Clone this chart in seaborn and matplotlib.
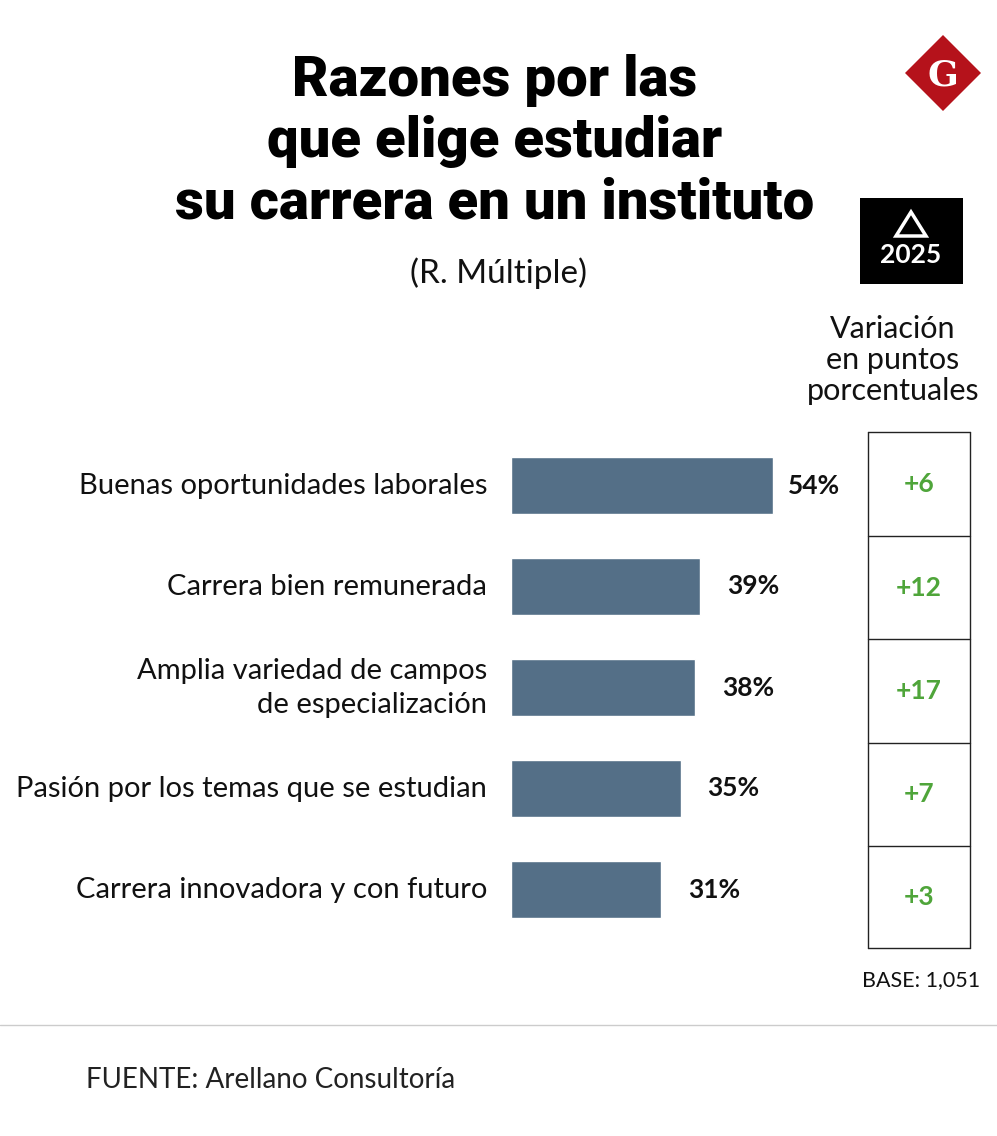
import matplotlib
matplotlib.use("Agg")
import matplotlib.pyplot as plt
import seaborn as sns
import pandas as pd
from matplotlib.patches import Polygon, Rectangle

sns.set_theme(style="white")
plt.rcParams['font.family'] = ['Lato', 'DejaVu Sans']

df = pd.DataFrame({
    "razon": ["Buenas oportunidades laborales", "Carrera bien remunerada",
              "Amplia variedad de campos\nde especialización",
              "Pasión por los temas que se estudian", "Carrera innovadora y con futuro"],
    "pct": [54, 39, 38, 35, 31],
    "var": ["+6", "+12", "+17", "+7", "+3"],
})

W, H = 997, 1136
fig = plt.figure(figsize=(W / 100, H / 100), dpi=100)

def fx(x): return x / W
def fy(y): return 1 - y / H

# bar axes: x pixel 511 -> 0%, 4.85 px per %
ax = fig.add_axes([fx(511), fy(940), 485 / W, 505 / H])
sns.barplot(data=df, x="pct", y="razon", color="#546f87", width=0.57, ax=ax, saturation=1)
ax.set_xlim(0, 100)
ax.set_xlabel("")
ax.set_ylabel("")
ax.set_xticks([])
ax.set_yticklabels([])
ax.tick_params(left=False)
sns.despine(ax=ax, left=True, bottom=True)
ax.patch.set_alpha(0)
for i, row in df.iterrows():
    off = 3.0 if i == 0 else 5.5
    ax.text(row.pct + off, i, f"{row.pct}%", va="center", ha="left",
            fontsize=19, fontweight="bold", color="#111111")
    fig.text(fx(487), fy(486 + 101 * i), row.razon, ha="right", va="center",
             fontsize=21, color="#111111", linespacing=1.35)

# variation table
rows = [432, 536, 639, 743, 846, 948]
for y in rows:
    fig.add_artist(plt.Line2D([fx(868), fx(970)], [fy(y), fy(y)], color="#222222", lw=1))
for x in [868, 970]:
    fig.add_artist(plt.Line2D([fx(x), fx(x)], [fy(432), fy(948)], color="#222222", lw=1))
for i, v in enumerate(df["var"]):
    fig.text(fx(919), fy((rows[i] + rows[i + 1]) / 2), v, ha="center", va="center",
             fontsize=19, fontweight="bold", color="#4fa53a")

fig.text(fx(893), fy(360), "Variación\nen puntos\nporcentuales", ha="center", va="center",
         fontsize=22, color="#111111", linespacing=1.15)
fig.text(fx(980), fy(980), "BASE: 1,051", ha="right", va="center", fontsize=15.5, color="#111111")

# title
fig.text(fx(495), fy(142), "Razones por las\nque elige estudiar\nsu carrera en un instituto",
         ha="center", va="center", fontsize=40.5, fontweight="black", color="black",
         linespacing=1.2, family=["Roboto", "Lato"])
fig.text(fx(498), fy(273), "(R. Múltiple)", ha="center", va="center", fontsize=24, color="#111111")

# 2025 badge
fig.add_artist(Rectangle((fx(860), fy(284)), 103 / W, 86 / H, transform=fig.transFigure,
                         facecolor="black", edgecolor="none"))
fig.add_artist(Polygon([(fx(911), fy(212)), (fx(896), fy(236)), (fx(926), fy(236))],
                       closed=True, transform=fig.transFigure, facecolor="none",
                       edgecolor="white", lw=2.5))
fig.text(fx(911), fy(255), "2025", ha="center", va="center", fontsize=19,
         fontweight="bold", color="white")

# logo
fig.add_artist(Polygon([(fx(943), fy(35)), (fx(981), fy(73)), (fx(943), fy(111)), (fx(905), fy(73))],
                       closed=True, transform=fig.transFigure, facecolor="#b5121b", edgecolor="none"))
fig.text(fx(943), fy(75), "G", ha="center", va="center", fontsize=26, color="white",
         family="DejaVu Serif", fontweight="bold")

# footer
fig.add_artist(plt.Line2D([0, 1], [fy(1025), fy(1025)], color="#cccccc", lw=1))
fig.text(fx(86), fy(1080), "FUENTE: Arellano Consultoría", ha="left", va="center",
         fontsize=20, color="#222222")

fig.savefig("out.png", dpi=100, facecolor="white")
